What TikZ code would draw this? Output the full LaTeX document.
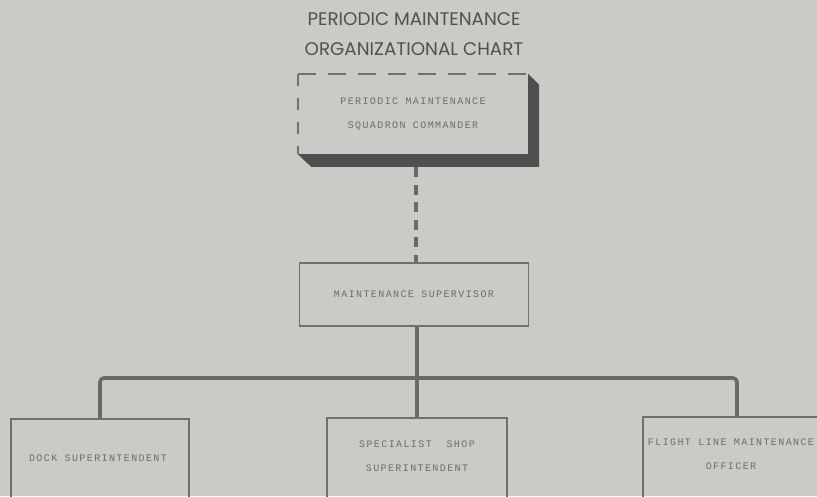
\documentclass[tikz,border=0pt]{standalone}
\usepackage{fontspec}
\newfontfamily\titlefont{Poppins}
\newfontfamily\boxfont[LetterSpace=14]{Liberation Mono}
\definecolor{bg}{RGB}{201,203,199}
\definecolor{linec}{RGB}{112,113,111}
\definecolor{conc}{RGB}{105,106,104}
\definecolor{shadowc}{RGB}{78,79,78}
\definecolor{titlec}{RGB}{80,81,80}
\definecolor{boxtextc}{RGB}{108,109,107}
\tikzset{
  x=1pt, y=-1pt,
  boxnode/.style={draw=linec, line width=1.6pt, rectangle, inner sep=0pt},
  blanknode/.style={rectangle, inner sep=0pt},
  boxtext/.style={font=\boxfont\fontsize{10}{12}\selectfont, text=boxtextc, align=center, inner sep=0pt},
  titletext/.style={font=\titlefont\fontsize{18.3}{20}\selectfont, text=titlec, inner sep=0pt},
  con/.style={draw=conc, line width=3.6pt},
  dashcon/.style={draw=conc, line width=4pt, dash pattern=on 10pt off 7.5pt},
  dashedge/.style={draw=linec, line width=1.6pt, dash pattern=on 18pt off 12pt},
  dashedgeside/.style={draw=linec, line width=1.6pt, dash pattern=on 12pt off 12pt},
}
\begin{document}
\begin{tikzpicture}
\fill[bg] (0,0) rectangle (817,496);
\useasboundingbox (0,0) rectangle (817,496);
\clip (0,0) rectangle (817,496);

% title
\node[titletext] (t1) at (414,19) {PERIODIC MAINTENANCE};
\node[titletext] (t2) at (414,49) {ORGANIZATIONAL CHART};

% commander box with shadow
\node[blanknode, minimum width=230pt, minimum height=80pt] (cmd) at (413,114) {};
\fill[shadowc] (cmd.north east) -- ++(11,11) -- ++(0,82) -- ++(-228,0) -- (cmd.south west) -- (cmd.south east) -- cycle;
\draw[dashedge] (cmd.north west) -- (cmd.north east);
\draw[dashedgeside] (cmd.north west) -- (cmd.south west);
\node[boxtext] (cmdtext) at (413,114) {PERIODIC MAINTENANCE\\[12pt]SQUADRON COMMANDER};

% supervisor
\node[boxnode, minimum width=229pt, minimum height=63pt, boxtext] (sup) at (414,294.5) {MAINTENANCE SUPERVISOR};

\coordinate (cmdbase) at (416,167);
\draw[dashcon] (cmdbase) -- (cmdbase |- sup.north);

% bottom boxes
\node[boxnode, minimum width=178pt, minimum height=100pt, anchor=north] (dock) at (100,418) {};
\node[boxtext] (docktext) at (98,458) {DOCK SUPERINTENDENT};

\node[boxnode, minimum width=180pt, minimum height=100pt, anchor=north] (shop) at (417,417) {};
\node[boxtext] (shoptext) at (417,456.5) {SPECIALIST\ \ SHOP\\[12pt]SUPERINTENDENT};

\node[boxnode, minimum width=188pt, minimum height=100pt, anchor=north] (flight) at (737,416) {};
\node[boxtext] (flighttext) at (731,454) {FLIGHT LINE MAINTENANCE\\[12pt]OFFICER};

% connectors
\coordinate (bus) at (417,378);
\draw[con, rounded corners=4pt] (dock.north) -- (dock.north |- bus) -- (flight.north |- bus) -- (flight.north);
\draw[con] (shop.north) -- (shop.north |- sup.south);
\end{tikzpicture}
\end{document}
